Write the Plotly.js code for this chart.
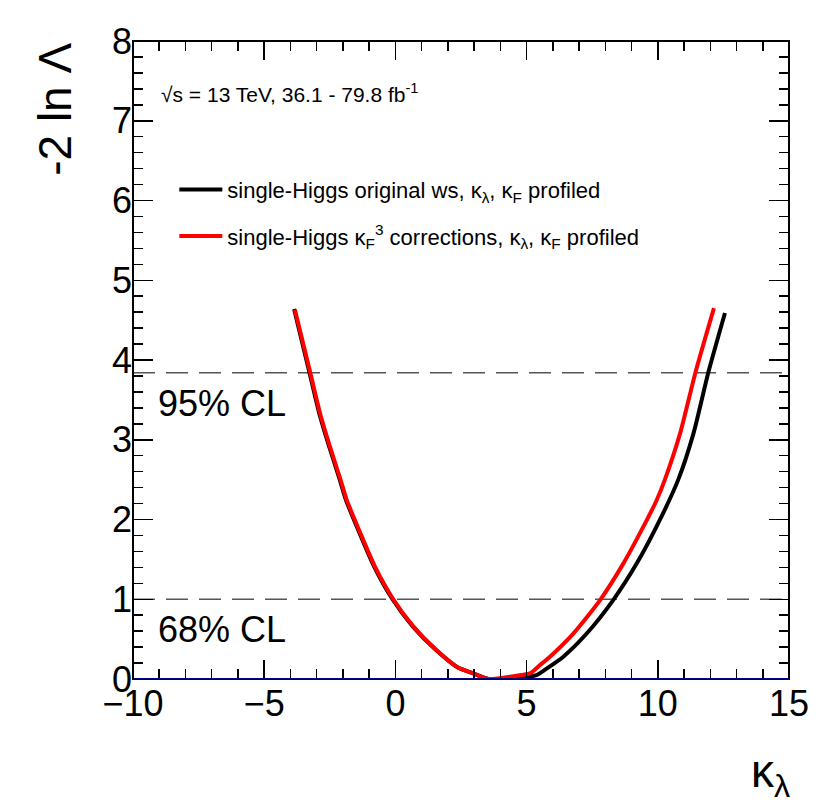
<!DOCTYPE html>
<html>
<head>
<meta charset="utf-8">
<script src="https://cdn.plot.ly/plotly-3.0.1.min.js"></script>
<style>
  body { margin: 0; background: #fff; }
  #nllPlot { width: 830px; height: 809px; }
</style>
</head>
<body>
<div id="nllPlot"></div>
<script>
// kappa_lambda scan
const klOriginal = [-3.86, -3.28, -2.9, -2.52, -2.14, -1.89, -1.38, -0.81, -0.11, 0.66, 1.56, 2.4, 2.97, 3.54, 4.81, 5.38, 5.76, 6.4, 7.29, 8.3, 9.2, 9.95, 10.78, 11.36, 11.93, 12.56];
const nllOriginal = [4.64, 3.85, 3.33, 2.91, 2.52, 2.25, 1.84, 1.41, 1.0, 0.66, 0.36, 0.14, 0.07, 0.0, 0.02, 0.05, 0.13, 0.28, 0.57, 0.99, 1.45, 1.91, 2.5, 3.08, 3.85, 4.59];

const klCorrected = [-3.83, -3.25, -2.87, -2.49, -2.11, -1.86, -1.35, -0.78, -0.08, 0.68, 1.57, 2.4, 2.97, 3.54, 4.81, 5.13, 5.51, 5.89, 6.78, 7.8, 8.69, 9.45, 9.96, 10.27, 10.85, 11.44, 12.14];
const nllCorrected = [4.63, 3.85, 3.33, 2.91, 2.52, 2.25, 1.84, 1.41, 1.0, 0.66, 0.36, 0.14, 0.07, 0.0, 0.05, 0.07, 0.175, 0.28, 0.57, 0.99, 1.45, 1.91, 2.245, 2.5, 3.08, 3.85, 4.65];

const clLevels = [3.84, 1.0];
const clLabels = ["95% CL", "68% CL"];
const xTicks = [-10, -5, 0, 5, 10, 15];
const yTicks = [0, 1, 2, 3, 4, 5, 6, 7, 8];

const font = "Liberation Sans, Arial, Helvetica, sans-serif";

const traces = [
  {
    x: klOriginal, y: nllOriginal, type: "scatter", mode: "lines",
    name: "single-Higgs original ws, κ<sub>λ</sub>, κ<sub>F</sub> profiled",
    legendgroup: "a",
    line: { color: "#000000", width: 4, shape: "spline", smoothing: 0.6 },
  },
  {
    x: klCorrected, y: nllCorrected, type: "scatter", mode: "lines",
    name: "single-Higgs κ<sub>F</sub><sup>3</sup> corrections, κ<sub>λ</sub>, κ<sub>F</sub> profiled",
    legendgroup: "b",
    line: { color: "#ff0000", width: 4, shape: "spline", smoothing: 0.6 },
  },
];

const shapes = clLevels.map((lvl) => ({
  type: "line", xref: "paper", yref: "y", x0: 0, x1: 1, y0: lvl, y1: lvl,
  line: { color: "#555555", width: 1.5, dash: "22px,11px" },
  layer: "below",
}));
// frame, then the navy zero line on top of its bottom edge
shapes.push({
  type: "rect", xref: "paper", yref: "paper", x0: 0, x1: 1, y0: 0, y1: 1,
  line: { color: "#000000", width: 2 }, layer: "above",
});
shapes.push({
  type: "line", xref: "paper", yref: "y", x0: 0, x1: 1, y0: 0, y1: 0,
  line: { color: "#000080", width: 2 }, layer: "above",
});

const annotations = [
  {
    text: "-2 ln Λ", xref: "paper", yref: "paper", x: -0.12, y: 1.0,
    xanchor: "center", yanchor: "top", textangle: -90, showarrow: false,
    font: { family: font, size: 46, color: "#000" },
  },
  {
    text: "κ<sub>λ</sub>", xref: "paper", yref: "paper", x: 1.005, y: -0.1,
    xanchor: "right", yanchor: "top", showarrow: false,
    font: { family: font, size: 46, color: "#000" },
  },
  {
    text: "√s = 13 TeV, 36.1 - 79.8 fb<sup>-1</sup>", xref: "paper", yref: "paper",
    x: 0.04, y: 0.918, xanchor: "left", yanchor: "middle", showarrow: false,
    font: { family: font, size: 21, color: "#000" },
  },
];
clLevels.forEach((lvl, i) => {
  annotations.push({
    text: clLabels[i], xref: "paper", yref: "y", x: 0.035, y: lvl,
    xanchor: "left", yanchor: "top", yshift: -8, showarrow: false,
    font: { family: font, size: 36, color: "#000" },
  });
});

const layout = {
  width: 830,
  height: 809,
  margin: { l: 133, r: 41, t: 41, b: 130, pad: 0 },
  paper_bgcolor: "#ffffff",
  plot_bgcolor: "#ffffff",
  showlegend: true,
  legend: {
    x: 0.063, y: 0.8, xanchor: "left", yanchor: "top",
    bgcolor: "rgba(0,0,0,0)", tracegroupgap: 15, itemwidth: 43,
    font: { family: font, size: 22, color: "#000" },
  },
  xaxis: {
    range: [-10, 15], tickvals: xTicks, ticks: "inside", ticklen: 19, tickwidth: 1.5,
    tickcolor: "#000", showline: false, mirror: "ticks", showgrid: false, zeroline: false,
    minor: { dtick: 1, ticks: "inside", ticklen: 10, tickwidth: 1.5, tickcolor: "#000", showgrid: false },
    tickfont: { family: font, size: 36, color: "#000" },
  },
  yaxis: {
    range: [0, 8], tickvals: yTicks, ticks: "inside", ticklen: 20, tickwidth: 1.5,
    tickcolor: "#000", showline: false, mirror: "ticks", showgrid: false, zeroline: false,
    minor: { dtick: 0.2, ticks: "inside", ticklen: 10, tickwidth: 1.5, tickcolor: "#000", showgrid: false },
    tickfont: { family: font, size: 36, color: "#000" },
  },
  shapes: shapes,
  annotations: annotations,
};

Plotly.newPlot("nllPlot", traces, layout, { displayModeBar: false, staticPlot: true });
</script>
</body>
</html>
